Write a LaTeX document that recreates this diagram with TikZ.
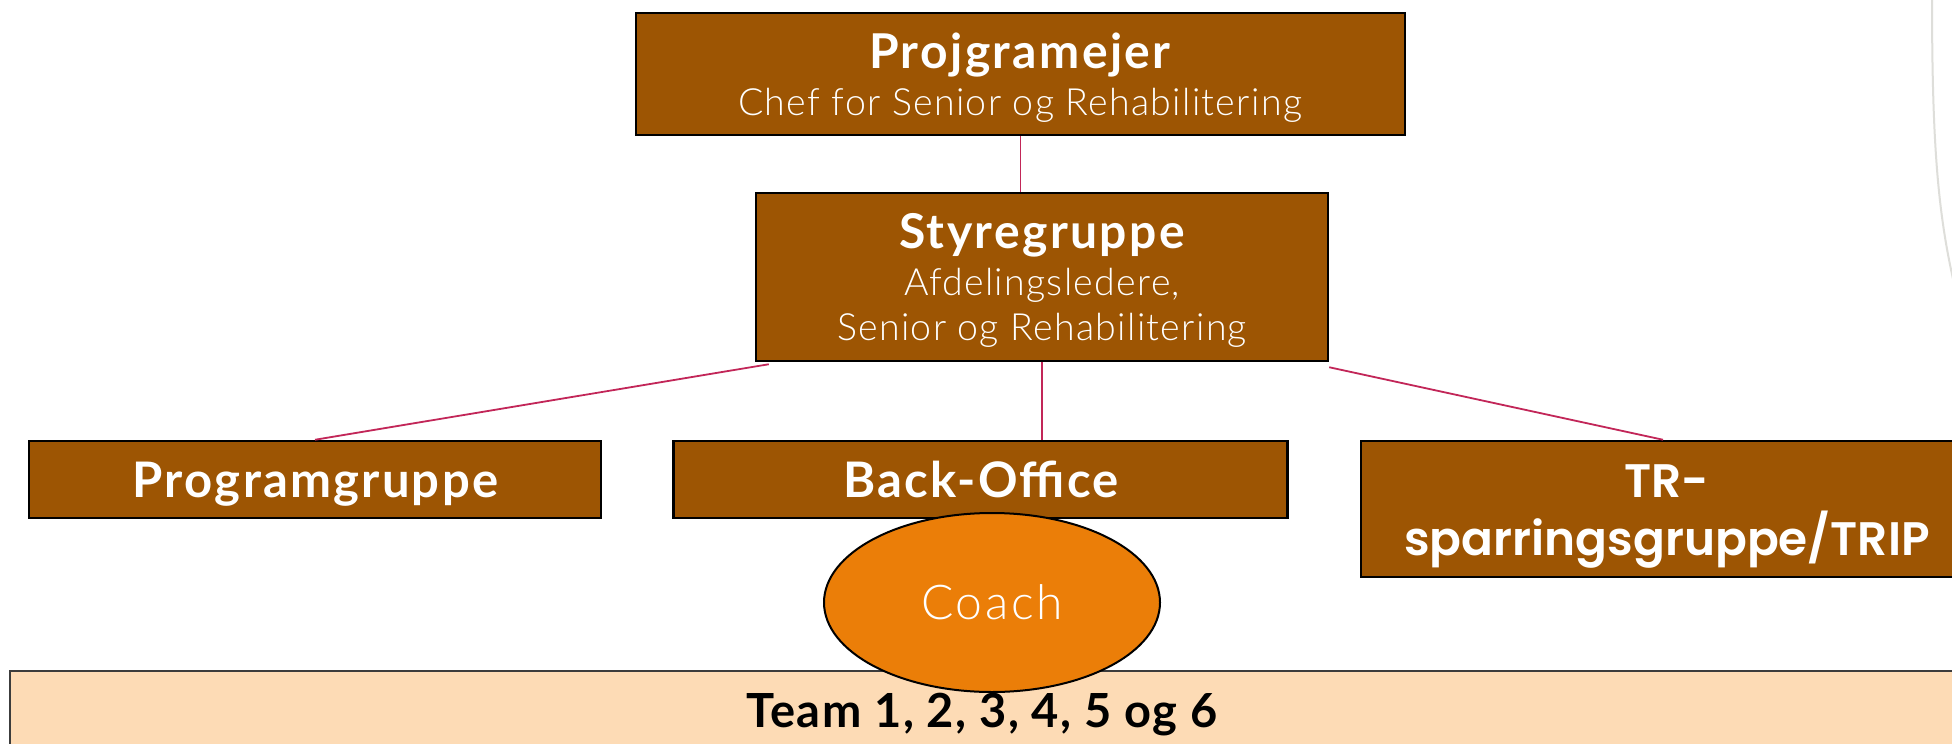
\documentclass[tikz,border=0pt]{standalone}
\usepackage{fontspec}
\setmainfont{Lato}
\newfontfamily\lightfont{Lato Light}
\newfontfamily\trfont{Poppins SemiBold}
\usetikzlibrary{shapes.geometric,calc}

\definecolor{boxbrown}{RGB}{157,85,3}
\definecolor{coachorange}{RGB}{235,126,8}
\definecolor{teampeach}{RGB}{253,219,181}
\definecolor{connred}{RGB}{194,38,88}
\definecolor{arcgray}{RGB}{222,222,218}
\definecolor{teamline}{RGB}{60,60,60}

\tikzset{
  orgbox/.style={draw=black, line width=2.5pt, fill=boxbrown, inner sep=0pt},
  conn/.style={draw=connred, line width=1.8pt},
  wtext/.style={text=white, inner sep=0pt, anchor=base},
  titlefont/.style={font=\fontsize{48}{50}\selectfont\bfseries\addfontfeature{LetterSpace=5}},
  subfont/.style={font=\lightfont\fontsize{37.5}{44}\selectfont\addfontfeature{LetterSpace=3.5}},
  unitfont/.style={font=\fontsize{49}{50}\selectfont\bfseries\addfontfeature{LetterSpace=4.5}},
}

\begin{document}
\begin{tikzpicture}[x=1pt,y=-1pt]
\useasboundingbox (0,0) rectangle (1952,744);
\clip (0,0) rectangle (1952,744);
\fill[white] (0,0) rectangle (1952,744);

% thin grey arc at the upper right edge
\draw[arcgray, line width=2pt] (1932,-5) .. controls (1932,150) and (1938,220) .. (1958,300);

% boxes
\node[orgbox, minimum width=769, minimum height=122] (pm) at (1020.5,74) {};
\node[orgbox, minimum width=572, minimum height=168] (sty) at (1042,277) {};
\node[orgbox, minimum width=572, minimum height=77] (prog) at (315,479.5) {};
\node[orgbox, minimum width=614, minimum height=77] (bo) at (980.5,479.5) {};
\node[orgbox, minimum width=614, minimum height=136] (tr) at (1668,509) {};
\node[draw=teamline, line width=1.6pt, fill=teampeach, minimum width=1950, minimum height=90, inner sep=0pt] (team) at (985,716) {};

% texts
\node[wtext, titlefont] (pmT) at (1020,68) {Projgramejer};
\node[wtext, subfont] (pmS) at (1020,115) {Chef for Senior og Rehabilitering};
\node[wtext, titlefont] (styT) at (1042,248) {Styregruppe};
\node[wtext, subfont] (styS1) at (1042,295) {Afdelingsledere,};
\node[wtext, subfont] (styS2) at (1042,340) {Senior og Rehabilitering};
\node[wtext, unitfont] (progT) at (315.5,497) {Programgruppe};
\node[wtext, unitfont] (boT) at (981,497) {Back-Office};
\node[wtext, font=\trfont\fontsize{47}{55}\selectfont] (trT1) at (1667,497) {TR-};
\node[wtext, font=\trfont\fontsize{47}{55}\selectfont] (trT2) at (1667,555) {sparringsgruppe/TRIP};
\node[text=black, inner sep=0pt, anchor=base, font=\fontsize{47}{50}\selectfont\bfseries\addfontfeature{LetterSpace=3}] (teamT) at (982,727) {Team 1, 2, 3, 4, 5 og 6};

% connectors
\draw[conn] (pm.south) -- (pm.south |- sty.north);
\draw[conn] ($(sty.south west)+(14,2)$) -- (prog.north);
\draw[conn] (sty.south) -- (sty.south |- bo.north);
\draw[conn] ($(sty.south east)+(0,5)$) -- ($(tr.north)+(-5,0)$);

% coach ellipse on top
\node[ellipse, draw=black, line width=2pt, fill=coachorange, minimum width=336, minimum height=179, inner sep=0pt] (coach) at (992,602.5) {};
\node[wtext, font=\lightfont\fontsize{48}{50}\selectfont\addfontfeature{LetterSpace=5.5}] (coachT) at (992,619) {Coach};
\end{tikzpicture}
\end{document}
